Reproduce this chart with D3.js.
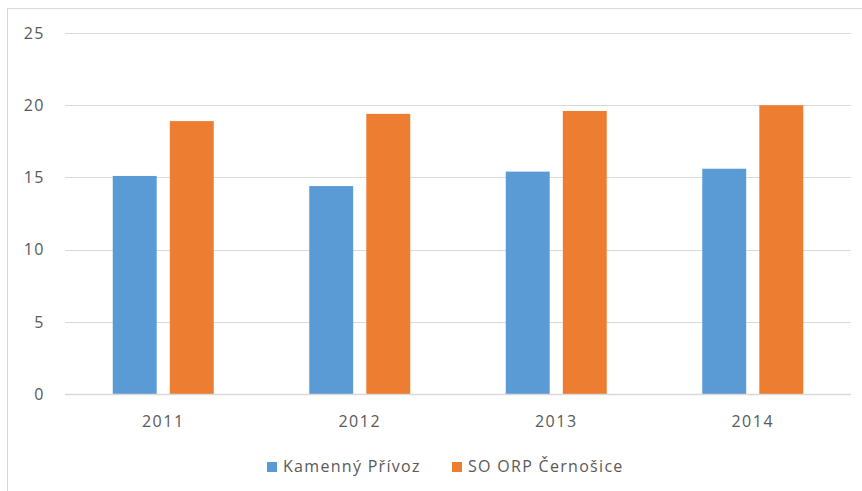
<!DOCTYPE html>
<html>
<head>
<meta charset="utf-8">
<script src="https://cdn.jsdelivr.net/npm/d3@7"></script>
<style>
  body { margin: 0; background: #fff; }
  text { font-family: "Open Sans", sans-serif; fill: #595959; }
</style>
</head>
<body>
<div id="chart"></div>
<script>
// data
var years = ["2011", "2012", "2013", "2014"];
var seriesNames = ["Kamenný Přívoz", "SO ORP Černošice"];
var kamenny = [15.1, 14.4, 15.4, 15.6];
var cernosice = [18.9, 19.4, 19.6, 20.0];
var yTicks = [0, 5, 10, 15, 20, 25];
var colors = ["#5B9BD5", "#ED7D31"];

var svgWidth = 862;
var svgHeight = 491;

// plot area
var plot = { left: 65, right: 851, top: 33, bottom: 394 };

var svg = d3.select("#chart")
  .append("svg")
  .attr("width", svgWidth)
  .attr("height", svgHeight);

// outer frame (cut off on the right and bottom, like the picture)
svg.append("rect")
  .attr("x", 7.5)
  .attr("y", 8.5)
  .attr("width", 900)
  .attr("height", 600)
  .attr("fill", "none")
  .attr("stroke", "#D9D9D9");

var yScale = d3.scaleLinear().domain([0, 25]).range([plot.bottom, plot.top]);

var x0 = d3.scaleBand()
  .domain(years)
  .range([plot.left, plot.right])
  .paddingInner(0.486)
  .paddingOuter(0.243);

var x1 = d3.scaleBand()
  .domain(seriesNames)
  .range([0, x0.bandwidth()])
  .paddingInner(0.23);

// gridlines
svg.append("g")
  .selectAll("line")
  .data(yTicks.filter(d => d > 0))
  .enter()
  .append("line")
  .attr("x1", plot.left)
  .attr("x2", plot.right)
  .attr("y1", d => Math.round(yScale(d)) + 0.5)
  .attr("y2", d => Math.round(yScale(d)) + 0.5)
  .attr("stroke", "#D9D9D9")
  .attr("stroke-width", 1);

// y labels
svg.append("g")
  .selectAll("text")
  .data(yTicks)
  .enter()
  .append("text")
  .attr("x", 45)
  .attr("y", d => yScale(d))
  .attr("dy", "0.36em")
  .attr("text-anchor", "end")
  .attr("font-size", "16px")
  .attr("letter-spacing", "1.5px")
  .text(d => d);

// bars
var rows = years.map((y, i) => ({ year: y, values: [kamenny[i], cernosice[i]] }));

var groups = svg.append("g")
  .selectAll("g")
  .data(rows)
  .enter()
  .append("g")
  .attr("transform", d => `translate(${x0(d.year)},0)`);

groups.selectAll("rect")
  .data(d => d.values.map((v, j) => ({ name: seriesNames[j], value: v, idx: j })))
  .enter()
  .append("rect")
  .attr("x", d => x1(d.name))
  .attr("width", x1.bandwidth())
  .attr("y", d => yScale(d.value))
  .attr("height", d => yScale(0) - yScale(d.value))
  .attr("fill", d => colors[d.idx]);

// x axis line
svg.append("line")
  .attr("x1", plot.left)
  .attr("x2", plot.right)
  .attr("y1", Math.round(yScale(0)) + 0.5)
  .attr("y2", Math.round(yScale(0)) + 0.5)
  .attr("stroke", "#D9D9D9")
  .attr("stroke-width", 1.5);

// x labels
svg.append("g")
  .selectAll("text")
  .data(years)
  .enter()
  .append("text")
  .attr("x", d => x0(d) + x0.bandwidth() / 2)
  .attr("y", 427)
  .attr("text-anchor", "middle")
  .attr("font-size", "16px")
  .attr("letter-spacing", "1.5px")
  .text(d => d);

// legend
var legendX = [267, 452];
var legend = svg.append("g")
  .selectAll("g")
  .data(seriesNames)
  .enter()
  .append("g")
  .attr("transform", (d, i) => `translate(${legendX[i]},462)`);

legend.append("rect")
  .attr("width", 10)
  .attr("height", 10)
  .attr("fill", (d, i) => colors[i]);

legend.append("text")
  .attr("x", 16)
  .attr("y", 10)
  .attr("font-size", "16px")
  .attr("letter-spacing", "1.3px")
  .text(d => d);
</script>
</body>
</html>
